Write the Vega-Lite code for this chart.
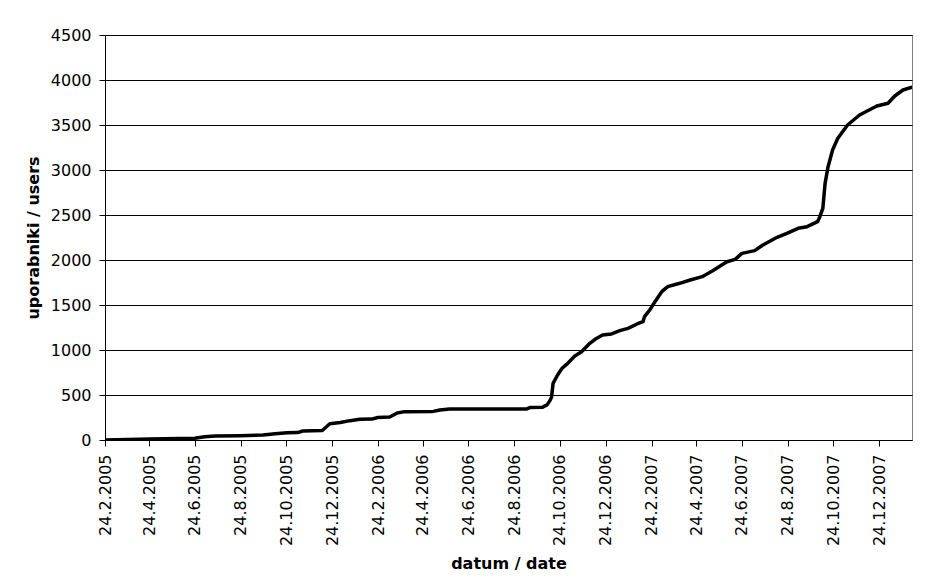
{
  "$schema": "https://vega.github.io/schema/vega-lite/v6.json",
  "autosize": "none",
  "width": 807,
  "height": 405,
  "padding": {"left": 105, "top": 35, "right": 20, "bottom": 142},
  "background": "white",
  "config": {
    "font": "DejaVu Sans",
    "view": {"stroke": "#808080", "strokeWidth": 1},
    "axis": {
      "labelFont": "DejaVu Sans",
      "labelFontSize": 16,
      "labelColor": "#000",
      "titleFont": "DejaVu Sans",
      "titleFontSize": 16,
      "titleFontWeight": "bold",
      "titleColor": "#000",
      "domainColor": "#000",
      "tickColor": "#000",
      "tickSize": 6,
      "gridColor": "#000",
      "gridOpacity": 1,
      "gridWidth": 1
    }
  },
  "data": {
    "values": [
      {"date": "2005-02-24", "users": 0},
      {"date": "2005-04-25", "users": 10},
      {"date": "2005-06-24", "users": 20},
      {"date": "2005-07-07", "users": 35},
      {"date": "2005-07-21", "users": 45},
      {"date": "2005-08-23", "users": 48},
      {"date": "2005-09-23", "users": 55},
      {"date": "2005-10-09", "users": 70},
      {"date": "2005-10-25", "users": 80},
      {"date": "2005-11-08", "users": 82},
      {"date": "2005-11-15", "users": 100},
      {"date": "2005-12-11", "users": 105},
      {"date": "2005-12-21", "users": 180},
      {"date": "2006-01-04", "users": 195},
      {"date": "2006-01-17", "users": 215},
      {"date": "2006-01-30", "users": 230},
      {"date": "2006-02-15", "users": 232},
      {"date": "2006-02-23", "users": 250},
      {"date": "2006-03-11", "users": 255},
      {"date": "2006-03-21", "users": 300},
      {"date": "2006-03-31", "users": 315},
      {"date": "2006-05-08", "users": 318},
      {"date": "2006-05-17", "users": 333},
      {"date": "2006-05-30", "users": 345},
      {"date": "2006-09-10", "users": 345},
      {"date": "2006-09-14", "users": 360},
      {"date": "2006-10-01", "users": 365},
      {"date": "2006-10-07", "users": 390},
      {"date": "2006-10-11", "users": 440},
      {"date": "2006-10-13", "users": 480},
      {"date": "2006-10-15", "users": 630},
      {"date": "2006-10-21", "users": 722},
      {"date": "2006-10-27", "users": 797},
      {"date": "2006-11-02", "users": 840},
      {"date": "2006-11-13", "users": 933},
      {"date": "2006-11-22", "users": 981},
      {"date": "2006-12-03", "users": 1074},
      {"date": "2006-12-10", "users": 1119},
      {"date": "2006-12-20", "users": 1167},
      {"date": "2007-01-01", "users": 1178},
      {"date": "2007-01-12", "users": 1215},
      {"date": "2007-01-23", "users": 1241},
      {"date": "2007-02-04", "users": 1289},
      {"date": "2007-02-12", "users": 1315},
      {"date": "2007-02-14", "users": 1370},
      {"date": "2007-02-21", "users": 1444},
      {"date": "2007-02-28", "users": 1537},
      {"date": "2007-03-09", "users": 1648},
      {"date": "2007-03-17", "users": 1704},
      {"date": "2007-04-02", "users": 1741},
      {"date": "2007-04-16", "users": 1778},
      {"date": "2007-05-02", "users": 1815},
      {"date": "2007-05-16", "users": 1881},
      {"date": "2007-06-04", "users": 1981},
      {"date": "2007-06-15", "users": 2007},
      {"date": "2007-06-24", "users": 2074},
      {"date": "2007-07-11", "users": 2104},
      {"date": "2007-07-22", "users": 2167},
      {"date": "2007-08-10", "users": 2252},
      {"date": "2007-08-23", "users": 2296},
      {"date": "2007-09-07", "users": 2352},
      {"date": "2007-09-19", "users": 2370},
      {"date": "2007-10-03", "users": 2426},
      {"date": "2007-10-06", "users": 2481},
      {"date": "2007-10-10", "users": 2574},
      {"date": "2007-10-13", "users": 2852},
      {"date": "2007-10-17", "users": 3037},
      {"date": "2007-10-23", "users": 3222},
      {"date": "2007-10-30", "users": 3352},
      {"date": "2007-11-12", "users": 3500},
      {"date": "2007-11-28", "users": 3611},
      {"date": "2007-12-21", "users": 3711},
      {"date": "2008-01-05", "users": 3741},
      {"date": "2008-01-14", "users": 3822},
      {"date": "2008-01-25", "users": 3889},
      {"date": "2008-02-06", "users": 3919}
    ]
  },
  "mark": {"type": "line", "color": "#000", "strokeWidth": 3.5, "strokeJoin": "round", "strokeCap": "round", "clip": true},
  "encoding": {
    "x": {
      "field": "date",
      "type": "temporal",
      "title": "datum / date",
      "scale": {
        "type": "utc",
        "nice": false,
        "domain": [
          {"year": 2005, "month": 2, "date": 24, "utc": true},
          {"year": 2008, "month": 2, "date": 6, "utc": true}
        ]
      },
      "axis": {
        "values": [
          {"year": 2005, "month": 2, "date": 24, "utc": true},
          {"year": 2005, "month": 4, "date": 24, "utc": true},
          {"year": 2005, "month": 6, "date": 24, "utc": true},
          {"year": 2005, "month": 8, "date": 24, "utc": true},
          {"year": 2005, "month": 10, "date": 24, "utc": true},
          {"year": 2005, "month": 12, "date": 24, "utc": true},
          {"year": 2006, "month": 2, "date": 24, "utc": true},
          {"year": 2006, "month": 4, "date": 24, "utc": true},
          {"year": 2006, "month": 6, "date": 24, "utc": true},
          {"year": 2006, "month": 8, "date": 24, "utc": true},
          {"year": 2006, "month": 10, "date": 24, "utc": true},
          {"year": 2006, "month": 12, "date": 24, "utc": true},
          {"year": 2007, "month": 2, "date": 24, "utc": true},
          {"year": 2007, "month": 4, "date": 24, "utc": true},
          {"year": 2007, "month": 6, "date": 24, "utc": true},
          {"year": 2007, "month": 8, "date": 24, "utc": true},
          {"year": 2007, "month": 10, "date": 24, "utc": true},
          {"year": 2007, "month": 12, "date": 24, "utc": true}
        ],
        "format": "%-d.%-m.%Y",
        "labelAngle": 270,
        "labelPadding": 8,
        "labelFlush": false,
        "labelOverlap": false,
        "grid": false,
        "titlePadding": 10
      }
    },
    "y": {
      "field": "users",
      "type": "quantitative",
      "title": "uporabniki / users",
      "scale": {"domain": [0, 4500], "nice": false},
      "axis": {
        "values": [0, 500, 1000, 1500, 2000, 2500, 3000, 3500, 4000, 4500],
        "format": "d",
        "labelPadding": 8,
        "titlePadding": 9,
        "grid": true,
        "labelFlush": false
      }
    }
  }
}
